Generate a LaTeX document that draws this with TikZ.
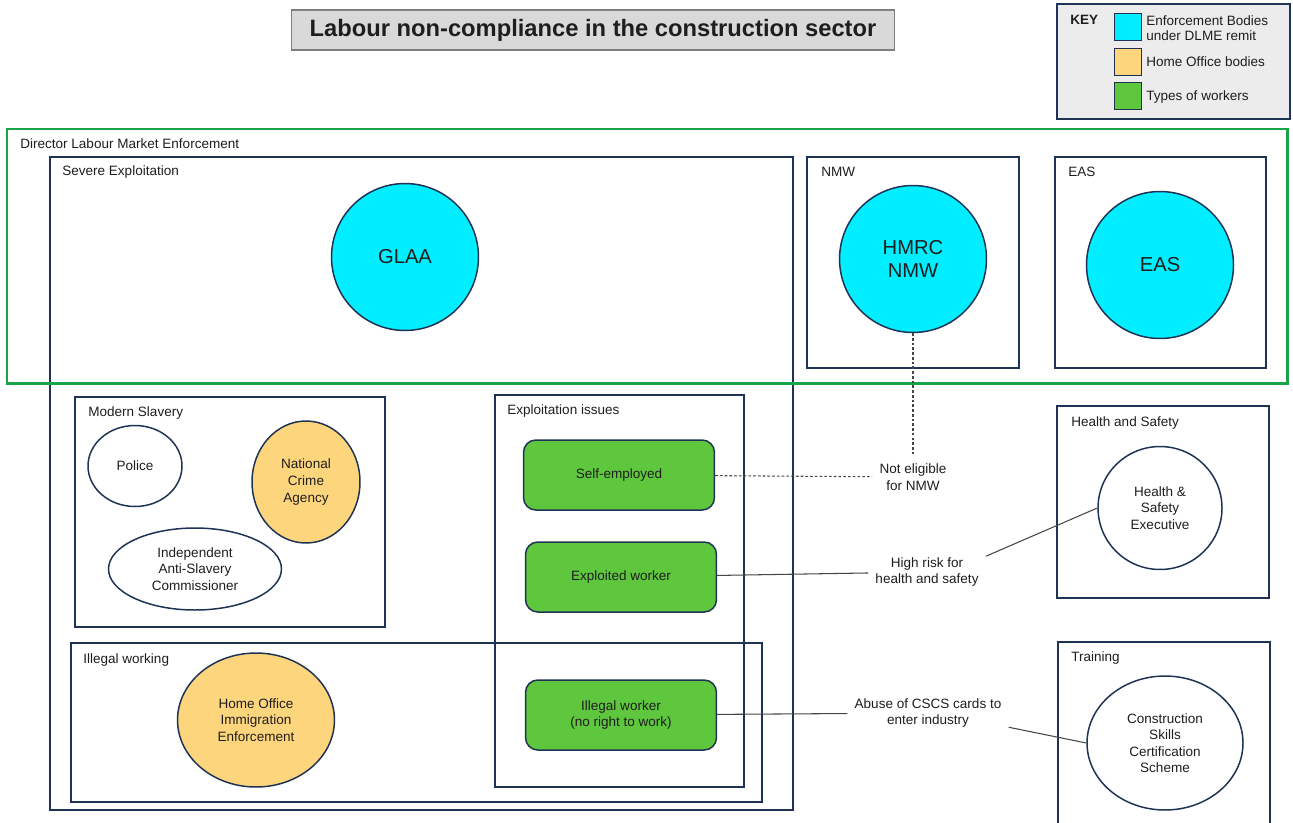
\documentclass[tikz,border=0pt]{standalone}
\usepackage{fontspec}
\setmainfont{Liberation Sans}
\usetikzlibrary{shapes.geometric}
\definecolor{navy}{RGB}{31,52,84}
\definecolor{dlmegreen}{RGB}{22,163,74}
\definecolor{dlmecyan}{RGB}{0,238,255}
\definecolor{hoyellow}{RGB}{253,213,125}
\definecolor{workergreen}{RGB}{94,199,62}
\definecolor{titlegray}{RGB}{217,217,217}
\definecolor{keygray}{RGB}{236,236,236}
\definecolor{linkgray}{RGB}{70,70,70}
\definecolor{txt}{RGB}{30,30,30}
\newcommand\pxw{0.02cm}
\newcommand\bodysize{2.94cm}
\newcommand\workerwidth{3.82cm}
\newcommand\lblfont{\fontsize{7.7}{9.4}\selectfont}
\newcommand\keyfont{\fontsize{7.7}{8.2}\selectfont}
\newcommand\bodyfont{\fontsize{11.5}{13}\selectfont}
\newcommand\titlefont{\fontsize{13.5}{16}\selectfont\bfseries}
\tikzset{
  frame/.style={draw=navy, line width=0.85pt},
  dlmeframe/.style={draw=dlmegreen, line width=1.7pt},
  boxlabel/.style={anchor=west, inner sep=0pt, font=\lblfont, text=txt},
  body/.style={draw=navy, line width=0.85pt, inner sep=0pt, align=center, font=\lblfont, text=txt},
  dlme/.style={body, circle, fill=dlmecyan, font=\bodyfont, minimum size=\bodysize},
  homeoffice/.style={body, ellipse, fill=hoyellow},
  other/.style={body, ellipse, fill=white},
  worker/.style={body, rectangle, rounded corners=7pt, fill=workergreen, minimum width=\workerwidth, minimum height=1.4cm},
  swatch/.style={draw=navy, line width=1pt, minimum size=0.54cm, inner sep=0pt},
  note/.style={align=center, font=\lblfont, text=txt, inner sep=4pt},
  link/.style={draw=linkgray, line width=0.6pt},
  dotlink/.style={link, dash pattern=on 1.5pt off 1.2pt},
}

\begin{document}
\begin{tikzpicture}[x=\pxw, y=-\pxw]
    \useasboundingbox[fill=white] (0,0) rectangle (1293,822);

    \node[draw=gray, fill=titlegray, line width=0.8pt, minimum width=12.06cm, minimum height=0.8cm, font=\titlefont, text=txt] (title) at (593,30) {Labour non-compliance in the construction sector};

    \draw[frame, fill=keygray] (1057,4) rectangle (1290,119);
    \node[anchor=west, inner sep=0pt, font=\keyfont\bfseries, text=txt] (keyhead) at (1070,20) {KEY};
    \node[swatch, fill=dlmecyan] (keycyan) at (1128,27) {};
    \node[swatch, fill=hoyellow] (keyyellow) at (1128,62) {};
    \node[swatch, fill=workergreen] (keygreen) at (1128,96) {};
    \node[anchor=west, inner sep=0pt, align=left, font=\keyfont, text=txt] (keycyantext) at (1146,28) {Enforcement Bodies\\under DLME remit};
    \node[anchor=west, inner sep=0pt, font=\keyfont, text=txt] (keyyellowtext) at (1146,62) {Home Office bodies};
    \node[anchor=west, inner sep=0pt, font=\keyfont, text=txt] (keygreentext) at (1146,97) {Types of workers};

    \draw[frame] (50,157) rectangle (793,810);
    \draw[frame] (807,157) rectangle (1019,368);
    \draw[frame] (1055,157) rectangle (1266,368);
    \draw[frame] (75,397) rectangle (385,627);
    \draw[frame] (495,395) rectangle (744,787);
    \draw[frame] (71,643) rectangle (762,802);
    \draw[frame] (1057,406) rectangle (1269,598);
    \draw[frame] (1058,642) rectangle (1270,830);
    \draw[dlmeframe] (7,129) rectangle (1287,383);

    \node[boxlabel] (dlmelabel) at (20,144) {Director Labour Market Enforcement};
    \node[boxlabel] (severelabel) at (62,172) {Severe Exploitation};
    \node[boxlabel] (nmwlabel) at (821,172) {NMW};
    \node[boxlabel] (easlabel) at (1068,172) {EAS};
    \node[boxlabel] (slaverylabel) at (88,413) {Modern Slavery};
    \node[boxlabel] (issueslabel) at (507,411) {Exploitation issues};
    \node[boxlabel] (illegallabel) at (83,660) {Illegal working};
    \node[boxlabel] (hslabel) at (1071,423) {Health and Safety};
    \node[boxlabel] (traininglabel) at (1071,658) {Training};

    \node[dlme] (glaa) at (405,257) {GLAA};
    \node[dlme] (hmrc) at (913,259) {HMRC\\NMW};
    \node[dlme] (eas) at (1160,265) {EAS};
    \node[other, minimum width=1.88cm, minimum height=1.62cm] (police) at (135,466) {Police};
    \node[homeoffice, minimum width=2.16cm, minimum height=2.44cm] (nca) at (306,482) {National\\Crime\\Agency};
    \node[other, minimum width=3.46cm, minimum height=1.64cm] (iasc) at (195,569) {Independent\\Anti-Slavery\\Commissioner};
    \node[homeoffice, minimum width=3.14cm, minimum height=2.68cm] (hoie) at (256,720) {Home Office\\Immigration\\Enforcement};
    \node[other, minimum width=2.48cm, minimum height=2.46cm] (hse) at (1160,508) {Health \&\\Safety\\Executive};
    \node[other, minimum width=3.12cm, minimum height=2.68cm] (cscs) at (1165,743) {Construction\\Skills\\Certification\\Scheme};

    \node[worker] (selfemp) at (619,475) {Self-employed};
    \node[worker] (exploited) at (621,577) {Exploited worker};
    \node[worker] (illegal) at (621,715) {Illegal worker\\(no right to work)};

    \node[note] (notelig) at (913,477) {Not eligible\\for NMW};
    \node[note] (highrisk) at (927,572) {High risk for\\health and safety};
    \node[note] (abuse) at (928,713) {Abuse of CSCS cards to\\enter industry};

    \draw[dotlink] (hmrc) -- (notelig);
    \draw[dotlink] (selfemp) -- (notelig);
    \draw[link] (exploited) -- (highrisk);
    \draw[link] (highrisk.15) -- (hse.west);
    \draw[link] (illegal) -- (abuse);
    \draw[link] (abuse.-10) -- (cscs.west);

  \end{tikzpicture}
\end{document}
